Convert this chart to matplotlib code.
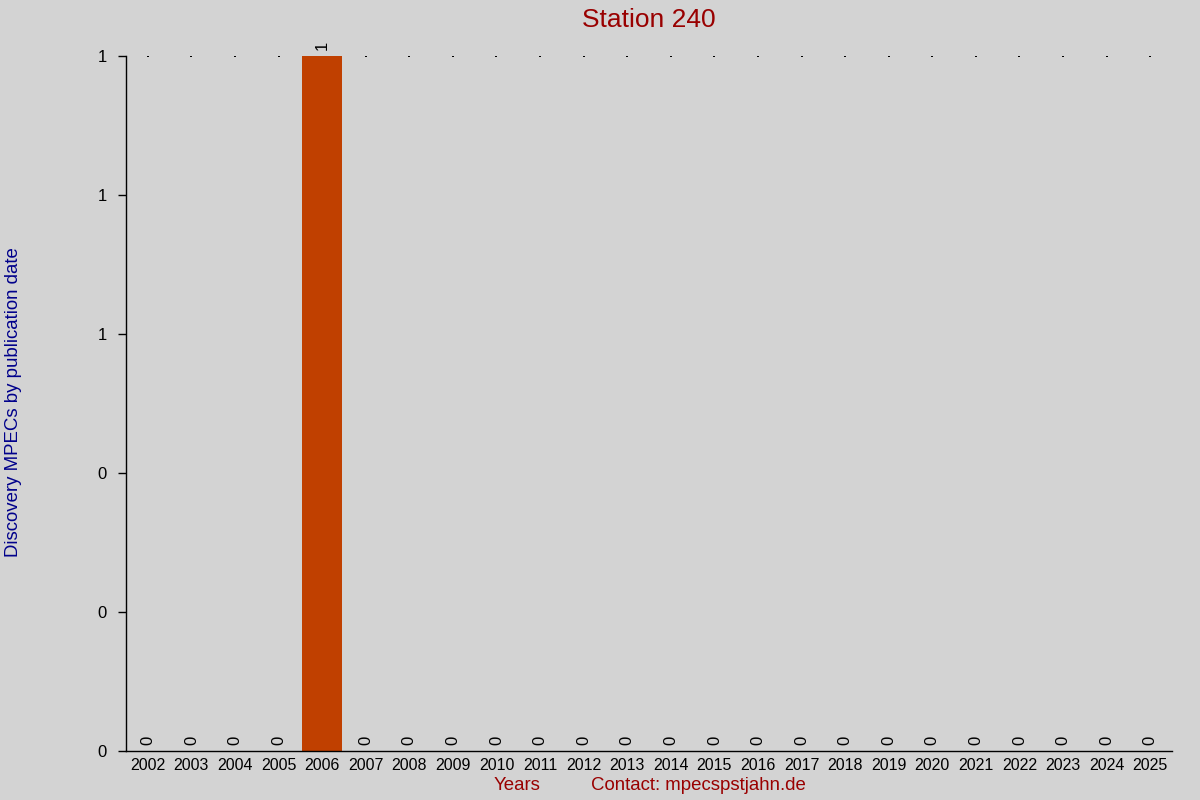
import matplotlib
matplotlib.use("Agg")
from matplotlib import pyplot as plt
from matplotlib.ticker import FuncFormatter

years = [str(y) for y in range(2002, 2026)]
counts = [0, 0, 0, 0, 1, 0, 0, 0, 0, 0, 0, 0, 0, 0, 0, 0, 0, 0, 0, 0, 0, 0, 0, 0]
yticks = [0, 0.2, 0.4, 0.6, 0.8, 1.0]

bg = '#d3d3d3'
bar_color = '#c04000'
red = '#990000'
blue = '#00008b'

plt.rcParams['font.family'] = ['Liberation Sans', 'DejaVu Sans']

fig = plt.figure(figsize=(12, 8), dpi=100, facecolor=bg)
ax = fig.add_axes([0.105, 0.06125, 0.8717, 0.86875], facecolor=bg)

x = list(range(len(years)))
ax.bar(x, counts, width=0.92, color=bar_color, zorder=2)

# small dots along the top line
ax.scatter(x, [max(counts)] * len(x), s=1, color='black', marker='s', zorder=1, linewidths=0)

for xi, v in zip(x, counts):
    ax.annotate('%d' % v, (xi, v), xytext=(0, 4), textcoords='offset points',
                rotation=90, ha='center', va='bottom', fontsize=12, color='black')

ax.set_xlim(-0.5, len(years) - 0.5)
ax.set_ylim(0, max(counts))
ax.set_xticks(x)
ax.set_xticklabels(years, fontsize=11.5)
ax.set_yticks(yticks)
ax.yaxis.set_major_formatter(FuncFormatter(lambda v, p: '%d' % round(v)))
ax.tick_params(axis='x', length=0, pad=5)
ax.tick_params(axis='y', length=5.8, width=1, labelsize=12, pad=8)

for s in ['top', 'right']:
    ax.spines[s].set_visible(False)
ax.spines['left'].set_linewidth(1)
ax.spines['bottom'].set_linewidth(1)

fig.text(0.541, 0.975, 'Station 240', ha='center', va='center', fontsize=19, color=red)
fig.text(0.011, 0.497, 'Discovery MPECs by publication date', rotation=90,
         ha='center', va='center', fontsize=13.4, color=blue)
fig.text(0.431, 0.018, 'Years', ha='center', va='center', fontsize=13.4, color=red)
fig.text(0.4925, 0.018, 'Contact: mpecspstjahn.de', ha='left', va='center', fontsize=13.4, color=red)

fig.savefig('out.png', dpi=100, facecolor=bg)
